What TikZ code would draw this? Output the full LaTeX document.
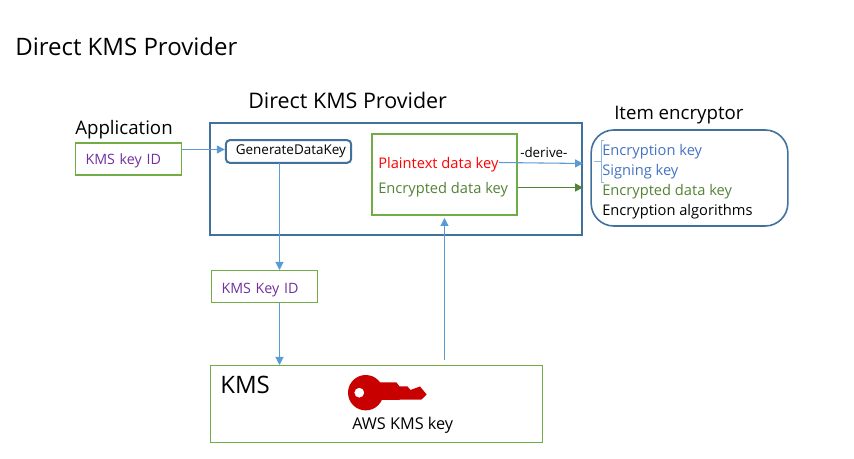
\documentclass[tikz,border=0pt]{standalone}
\usepackage{fontspec}
\setmainfont{Open Sans}
\usetikzlibrary{arrows.meta}
\definecolor{provblue}{HTML}{41719C}
\definecolor{linkblue}{HTML}{5B9BD5}
\definecolor{boxgreen}{HTML}{70AD47}
\definecolor{keygreen}{HTML}{548235}
\definecolor{keyblue}{HTML}{4472C4}
\definecolor{idpurple}{HTML}{7030A0}
\definecolor{keyred}{HTML}{C90000}
\newcommand{\fsize}[1]{\fontsize{#1}{#1}\selectfont}
\tikzset{
	label/.style    = {inner sep = 0pt, anchor = base west, font = \fsize{11}},
	heading/.style  = {inner sep = 0pt, anchor = base west, font = \fsize{14}},
	greenbox/.style = {draw = boxgreen, inner sep = 0pt},
	idbox/.style    = {greenbox, line width = 1pt, align = left, inner xsep = 7.5pt,
		text = idpurple, font = \fsize{10.7}, minimum height = 24pt, text depth = 0.8pt},
	link/.style     = {draw = linkblue, line width = 0.8pt, ->}
}

\begin{document}
\begin{tikzpicture}[x=0.75pt, y=-0.75pt, >={Triangle[length=6pt,width=6pt]}]
	\useasboundingbox (0,0) rectangle (854,459);
	\draw
	% the headings
	node at (15,56)[heading, font = \fsize{18}] (title) {Direct KMS Provider}
	node at (248,109)[heading, font = \fsize{16.1}] (provtitle) {Direct KMS Provider}
	node at (75,135)[heading] (apptitle) {Application}
	node at (614,120)[heading] (itemtitle) {Item encryptor}
	;
	\draw
	% the boxes
	node at (128.5,159)[idbox, text height = 9.5pt, text width = 64.5pt] (app) {KMS key ID}
	node at (396,179)[draw = provblue, line width = 1.6pt, minimum width = 279pt, minimum height = 84pt] (prov) {}
	node at (288.5,151.5)[draw = provblue, line width = 1.5pt, rounded corners = 3pt, minimum height = 17pt, inner sep = 0pt, inner xsep = 7.5pt, text width = 79pt, align = left, font = \fsize{10.1}] (gen) {GenerateDataKey}
	node at (444.5,174.5)[greenbox, line width = 1.5pt, minimum width = 108.5pt, minimum height = 60.5pt] (dk) {}
	node at (689.5,178)[draw = provblue, line width = 1.2pt, rounded corners = 17pt, minimum width = 147.5pt, minimum height = 72pt] (item) {}
	node at (264.5,286.5)[idbox, text height = 11pt, text width = 64.5pt] (kid) {KMS Key ID}
	node at (376.5,404)[greenbox, line width = 1pt, minimum width = 249pt, minimum height = 57.75pt] (kms) {}
	% the texts inside them
	node at (378,169)[label, text = red] (plain) {Plaintext data key}
	node at (378,194)[label, text = keygreen] (enc) {Encrypted data key}
	node at (602,156)[label, text = keyblue] (ek) {Encryption key}
	node at (602,176)[label, text = keyblue] (sk) {Signing key}
	node at (602,196)[label, text = keygreen] (ed) {Encrypted data key}
	node at (602,216)[label] (ea) {Encryption algorithms}
	node at (220,394)[heading, font = \fsize{18}] (kmstitle) {KMS}
	node at (352,430)[label, font = \fsize{12.2}] (awskey) {AWS KMS key}
	node at (520,158)[inner sep = 0pt, anchor = base west, font = \fsize{10}] (derive) {-derive-}
	;

	% free ends of the connectors
	\coordinate (appout) at (app.east |- 0,149.5);
	\coordinate (genin) at (gen.west |- 0,149.5);
	\coordinate (genout) at (279.5,163);
	\coordinate (kidin) at (279.5,270);
	\coordinate (kidout) at (279.5,302);
	\coordinate (kmsin) at (279.5,365);
	\coordinate (kmsout) at (444.5,360);
	\coordinate (dkin) at (444.5,218);
	\coordinate (plainfrom) at (plain.east |- 0,162.5);
	\coordinate (plainout) at (prov.east |- 0,163.5);
	\coordinate (encfrom) at (dk.east |- 0,187.5);
	\coordinate (encout) at (prov.east |- 0,187.5);

	\draw[link](appout) -- (genin);
	\draw[link](genout) -- (kidin);
	\draw[link](kidout) -- (kmsin);
	\draw[link](kmsout) -- (dkin);
	\draw[link](plainfrom) -- (plainout);
	\draw[draw = keygreen, line width = 0.8pt, ->](encfrom) -- (encout);

	% the brace round the two derived keys
	\draw[draw = linkblue!70, line width = 0.6pt] (604,140) -- (601,140) -- (601,182) -- (604,182)
	(601,161) -- (594,161);

	% the key
	\fill[keyred, even odd rule] (365.7,392.7) circle (17.7) (359.3,392.7) circle (5);
	\fill[keyred] (378,382.5) -- (396.5,382.5) -- (399.5,386.5) -- (407.5,386.5) -- (410.5,390)
	-- (420,386.5) -- (426.7,394.5) -- (421.5,399.5) -- (378,400) -- cycle;
\end{tikzpicture}
\end{document}
